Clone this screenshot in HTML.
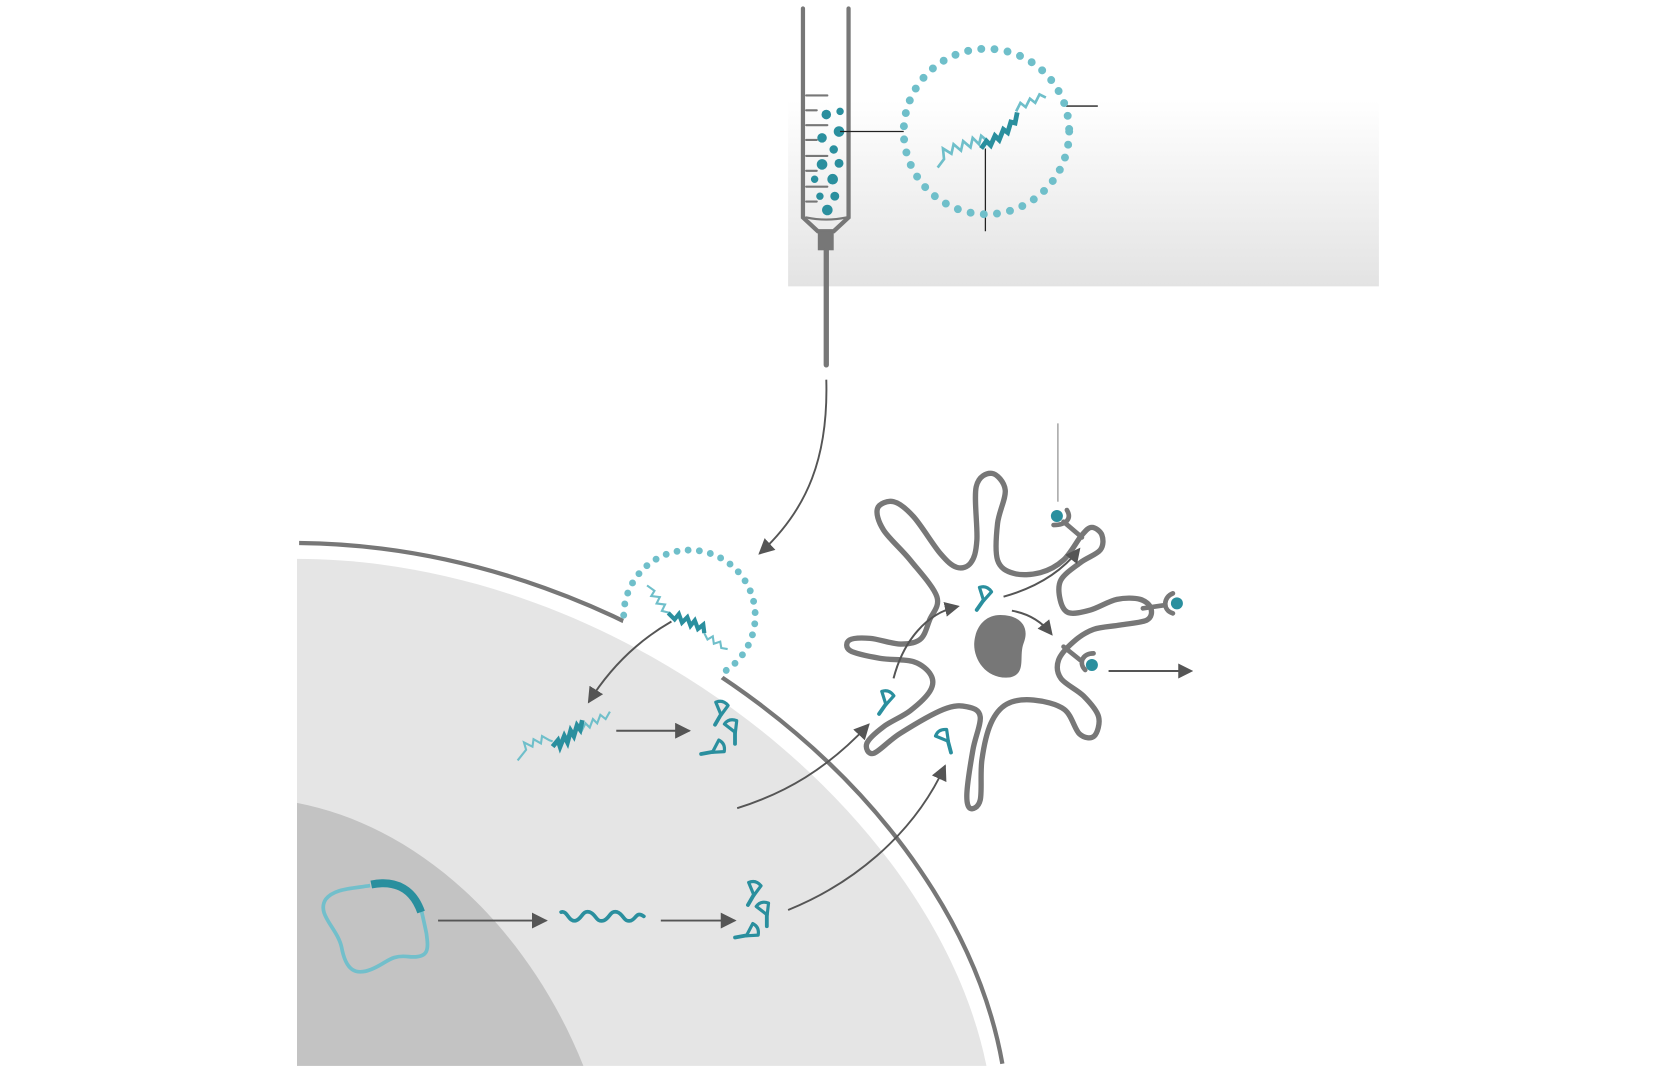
<!DOCTYPE html>
<html><head><meta charset="utf-8"><style>html,body{margin:0;padding:0;background:#fff;}svg{display:block;}</style></head>
<body>
<svg id="s" width="1660" height="1068" viewBox="0 0 1565 1007" preserveAspectRatio="none" xmlns="http://www.w3.org/2000/svg">
<defs>
<linearGradient id="g" x1="0" y1="0" x2="0" y2="1">
<stop offset="0" stop-color="#ffffff"/><stop offset="1" stop-color="#e3e3e3"/></linearGradient>
<marker id="b" viewBox="0 0 10 10" refX="9" refY="5" markerWidth="15" markerHeight="15" orient="auto" markerUnits="userSpaceOnUse"><path d="M0,0 L10,5 L0,10Z" fill="#555"/></marker>
<g id="p"><path d="M-6,-10 Q0,-14 6,-9 L1,1 Z" fill="none" stroke="#2a8f9e" stroke-width="3" stroke-linejoin="round"/><path d="M1,0 L-3,11" stroke="#2a8f9e" stroke-width="3.6" stroke-linecap="round"/></g>
</defs>

<rect x="743" y="95" width="557" height="175" fill="url(#g)"/>

<g stroke="#777" fill="none" stroke-linecap="round">
<path d="M757,8 V205 L771,218 H786 L800,205 V8" stroke-width="4"/>
<path d="M760,205 Q779,209 798,205" stroke-width="2"/>
<rect x="771" y="218" width="15" height="18" fill="#777" stroke="none"/>
<path d="M779,236 V344" stroke-width="5"/>
<g stroke-width="2">
<path d="M760,90 H780 M760,104 H770 M760,118 H780 M760,132 H770 M760,147 H780 M760,161 H770 M760,176 H780 M760,190 H770"/>
</g>
</g>
<g fill="#2a8f9e">
<circle cx="779" cy="108" r="4.5"/><circle cx="792" cy="105" r="3.5"/><circle cx="791" cy="124" r="5"/><circle cx="775" cy="130" r="4.5"/><circle cx="786" cy="141" r="4"/><circle cx="775" cy="155" r="5"/><circle cx="791" cy="154" r="4.2"/><circle cx="768" cy="169" r="3.5"/><circle cx="785" cy="169" r="5"/><circle cx="773" cy="185" r="3.5"/><circle cx="787" cy="185" r="4.2"/><circle cx="780" cy="198" r="5"/>
</g>
<g stroke="#222" stroke-width="1.2"><path d="M792,124 H852 M1005,100 H1035 M929,140 V218"/></g>
<circle cx="930" cy="124" r="78" fill="none" stroke="#6fbfca" stroke-width="7.5" stroke-dasharray="0 12.5" stroke-linecap="round"/>
<path d="M884,158 L890,150 L889,140 L897,145 L899,136 L906,142 L908,133 L915,139 L917,130 L923,136 L925,128 L931,133" fill="none" stroke="#6fbfca" stroke-width="2.5"/>
<path d="M958,105 L962,97 L967,101 L971,93 L976,97 L980,89 L986,92" fill="none" stroke="#6fbfca" stroke-width="2.5"/>
<path d="M925,140 L930,133 L934,137 L938,128 L942,132 L946,122 L950,125 L953,115 L957,116 L959,106" fill="none" stroke="#2a8f9e" stroke-width="4.5"/>

<path d="M779,358 C781,430 762,480 716,522" fill="none" stroke="#555" stroke-width="1.8" marker-end="url(#b)"/>

<path d="M282,512 C600,515 900,750 945,1003" fill="none" stroke="#777" stroke-width="4"/>
<circle cx="640" cy="602" r="55" fill="#fff"/>
<path d="M280,527 C580,527 880,760 930,1005 L280,1005Z" fill="#e5e5e5"/>
<path d="M280,757 C400,780 500,880 550,1005 L280,1005Z" fill="#c3c3c3"/>

<path d="M588,580 A62,62 0 1 1 678,636" fill="none" stroke="#6fbfca" stroke-width="6.5" stroke-dasharray="0 10.6" stroke-linecap="round"/>
<path d="M610,552 L617,557 L614,562 L622,563 L619,569 L627,570 L624,576 L632,578" fill="none" stroke="#6fbfca" stroke-width="2"/>
<path d="M664,597 L667,603 L672,600 L673,607 L679,605 L680,611 L686,612" fill="none" stroke="#6fbfca" stroke-width="2"/>
<path d="M630,578 L636,584 L640,579 L643,587 L648,582 L651,590 L655,585 L658,593 L663,589 L664,597" fill="none" stroke="#2a8f9e" stroke-width="4"/>

<path d="M633,586 C600,605 575,630 555,662" fill="none" stroke="#555" stroke-width="1.8" marker-end="url(#b)"/>

<path d="M488,717 L496,707 L494,700 L502,704 L503,697 L510,701 L511,694 L518,698 L521,699" fill="none" stroke="#6fbfca" stroke-width="2"/>
<path d="M548,690 L552,682 L556,686 L559,678 L563,682 L566,674 L571,678 L575,671" fill="none" stroke="#6fbfca" stroke-width="2"/>
<path d="M521,704 L526,698 L528,704 L532,694 L535,700 L538,689 L541,694 L544,684 L547,688 L549,679" fill="none" stroke="#2a8f9e" stroke-width="4.5"/>

<path d="M581,689 H650" stroke="#555" stroke-width="1.8" marker-end="url(#b)"/>
<use href="#p" transform="translate(679,673) rotate(10)"/>
<use href="#p" transform="translate(692,690) rotate(-20)"/>
<use href="#p" transform="translate(672,708) rotate(60)"/>

<path d="M695,762 C740,748 780,725 819,683" fill="none" stroke="#555" stroke-width="1.8" marker-end="url(#b)"/>

<path d="M349,835 C330,838 315,838 307,848 C298,862 318,875 322,893 C326,915 335,920 350,914 C365,908 368,900 385,902 C405,904 404,895 402,880 C400,870 398,862 397,857" fill="none" stroke="#72bfcb" stroke-width="3.5"/>
<path d="M350,834 C375,829 390,840 397,860" fill="none" stroke="#2a8f9e" stroke-width="7.5"/>
<path d="M413,868 H515" stroke="#555" stroke-width="1.8" marker-end="url(#b)"/>
<path d="M529,860 C535,858 536,870 543,868 C549,866 549,858 556,860 C562,862 562,870 569,868 C575,866 575,858 582,860 C588,862 588,870 595,868 C600,866 600,859 607,864" fill="none" stroke="#2a8f9e" stroke-width="3.5" stroke-linecap="round"/>
<path d="M623,868 H693" stroke="#555" stroke-width="1.8" marker-end="url(#b)"/>
<use href="#p" transform="translate(710,843) rotate(10)"/>
<use href="#p" transform="translate(722,862) rotate(-20)"/>
<use href="#p" transform="translate(704,881) rotate(60)"/>
<path d="M743,858 C800,835 860,790 891,722" fill="none" stroke="#555" stroke-width="1.8" marker-end="url(#b)"/>

<g transform="translate(754.4,414.9) scale(0.3143)">
<path id="dc" fill="none" stroke="#777" stroke-width="16" stroke-linejoin="round"/>
<path d="M600,525 C660,525 690,560 670,610 C655,650 680,700 630,712 C560,720 520,660 522,610 C525,560 555,525 600,525Z" fill="#777"/>
<path d="M773,-50 V185" stroke="#999" stroke-width="4"/>
<g stroke="#777" stroke-width="14" fill="none" stroke-linecap="round">
<path d="M800,210 C815,235 800,255 760,255 M790,245 L845,292"/>
<path d="M1118,460 C1090,470 1085,510 1118,520 M1095,495 L1028,505"/>
<path d="M880,640 C845,640 835,670 855,690 M840,660 L790,620"/>
</g>
<g fill="#2a8f9e"><circle cx="770" cy="228" r="18"/><circle cx="1130" cy="490" r="18"/><circle cx="875" cy="675" r="18"/></g>
<marker id="c" viewBox="0 0 10 10" refX="8" refY="5" markerWidth="45" markerHeight="45" orient="auto" markerUnits="userSpaceOnUse"><path d="M0,0 L10,5 L0,10Z" fill="#555"/></marker>
<g fill="none" stroke="#555" stroke-width="6">
<path d="M280,715 C310,600 380,520 470,500" marker-end="url(#c)"/>
<path d="M610,470 C700,445 780,400 835,330" marker-end="url(#c)"/>
<path d="M635,512 C680,520 720,540 752,580" marker-end="url(#c)"/>
<path d="M925,693 H1170" marker-end="url(#c)"/>
</g>
<use href="#p" transform="translate(548,478) rotate(15) scale(3.2)"/>
<use href="#p" transform="translate(255,790) rotate(15) scale(3.2)"/>
<use href="#p" transform="translate(440,903) rotate(-35) scale(3.2)"/>
</g>
</svg>
<script>
var P=[[410,470],[330,360],[250,270],[232,205],[280,185],[340,230],[420,340],[470,382],[512,368],[530,300],[528,140],[575,100],[615,150],[592,250],[592,360],[640,400],[720,398],[790,360],[845,285],[875,262],[905,285],[900,330],[840,368],[782,420],[780,480],[805,518],[870,510],[950,478],[1020,478],[1052,505],[1040,540],[960,555],[880,568],[820,605],[775,660],[782,715],[850,768],[895,830],[882,888],[838,882],[792,808],[700,780],[620,792],[572,850],[545,960],[540,1080],[510,1105],[500,1060],[518,930],[540,830],[500,800],[430,808],[300,880],[220,940],[200,910],[250,860],[330,812],[390,752],[392,705],[340,665],[240,655],[150,632],[148,600],[210,595],[300,612],[360,598],[388,540]];
var n=P.length,d="M"+P[0][0]+","+P[0][1];
for(var i=0;i<n;i++){var p0=P[(i-1+n)%n],p1=P[i],p2=P[(i+1)%n],p3=P[(i+2)%n];
d+=" C"+(p1[0]+(p2[0]-p0[0])/6)+","+(p1[1]+(p2[1]-p0[1])/6)+" "+(p2[0]-(p3[0]-p1[0])/6)+","+(p2[1]-(p3[1]-p1[1])/6)+" "+p2[0]+","+p2[1];}
document.getElementById("dc").setAttribute("d",d+"Z");
</script>
</body></html>
